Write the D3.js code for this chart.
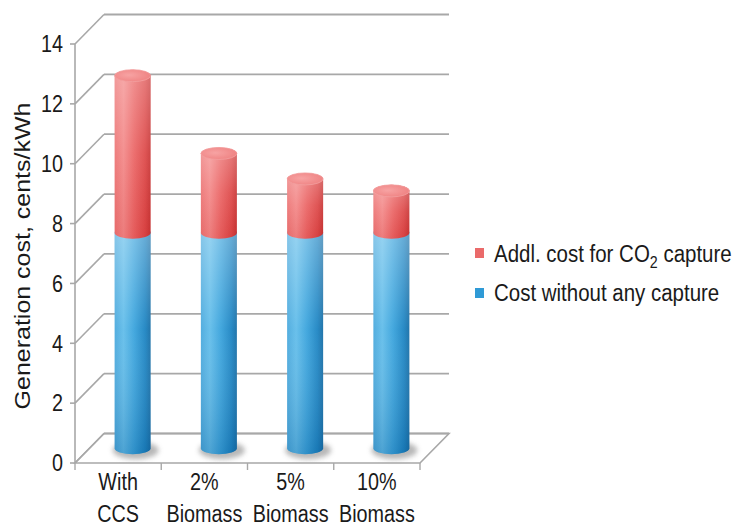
<!DOCTYPE html>
<html>
<head>
<meta charset="utf-8">
<script src="https://cdn.jsdelivr.net/npm/d3@7"></script>
<style>
  html, body { margin: 0; padding: 0; background: #ffffff; }
  svg { display: block; }
  text { font-family: "Liberation Sans", Arial, sans-serif; fill: #1a1a1a; }
</style>
</head>
<body>
<svg id="chart" width="734" height="526"></svg>
<script>
// ---- data ----
const categories = ["With CCS", "2% Biomass", "5% Biomass", "10% Biomass"];
const categoryLines = [["With", "CCS"], ["2%", "Biomass"], ["5%", "Biomass"], ["10%", "Biomass"]];
const baseCost = [7.2, 7.2, 7.2, 7.2];          // Cost without any capture
const captureCost = [5.25, 2.65, 1.8, 1.4];     // Addl. cost for CO2 capture
const yTicks = [0, 2, 4, 6, 8, 10, 12, 14];
const yTitle = "Generation cost, cents/kWh";
const legendBase = "Cost without any capture";

// ---- layout ----
const svg = d3.select("#chart");
const X0 = 75, X1 = 420, Y0 = 463, Y14 = 44;
const DX = 29, DY = -29.5;
const SX = 0.86;
const y = d3.scaleLinear().domain([0, 14]).range([Y0, Y14]);
const x = d3.scaleBand().domain(categories).range([X0, X1]).padding(0);
const gridColor = "#a8a8a8";

const defs = svg.append("defs");
function hGrad(id, stops) {
  const g = defs.append("linearGradient").attr("id", id).attr("x1", 0).attr("x2", 1).attr("y1", 0).attr("y2", 0);
  stops.forEach(s => g.append("stop").attr("offset", s[0]).attr("stop-color", s[1]).attr("stop-opacity", s[2] === undefined ? 1 : s[2]));
}
function vGrad(id, stops) {
  const g = defs.append("linearGradient").attr("id", id).attr("x1", 0).attr("x2", 0).attr("y1", 0).attr("y2", 1);
  stops.forEach(s => g.append("stop").attr("offset", s[0]).attr("stop-color", s[1]).attr("stop-opacity", s[2] === undefined ? 1 : s[2]));
}
hGrad("blueH", [[0, "#4aa9dd"], [0.25, "#62bdea"], [0.55, "#3aa3dc"], [0.85, "#1d84c2"], [1, "#176ea6"]]);
vGrad("blueV", [[0, "#ffffff", 0.35], [0.45, "#ffffff", 0.05], [1, "#00457f", 0.22]]);
hGrad("redH", [[0, "#ec7272"], [0.25, "#f38787"], [0.55, "#ea6262"], [0.85, "#dc4646"], [1, "#c83434"]]);
vGrad("redV", [[0, "#ffffff", 0.3], [0.5, "#ffffff", 0.08], [1, "#a00000", 0.08]]);
const rg = defs.append("radialGradient").attr("id", "capRed").attr("cx", 0.4).attr("cy", 0.45).attr("r", 0.7);
rg.append("stop").attr("offset", 0).attr("stop-color", "#f7a3a3");
rg.append("stop").attr("offset", 1).attr("stop-color", "#ee7f7f");
defs.append("filter").attr("id", "blur").attr("x", "-50%").attr("y", "-50%").attr("width", "200%").attr("height", "200%")
  .append("feGaussianBlur").attr("stdDeviation", 2.5);

// ---- walls / gridlines ----
const grid = svg.append("g");
// floor
grid.append("path")
  .attr("d", `M${X0},${y(0)} L${X1},${y(0)} L${X1 + DX},${y(0) + DY} L${X0 + DX},${y(0) + DY} Z`)
  .attr("fill", "#ffffff").attr("stroke", gridColor).attr("stroke-width", 1.6);
yTicks.forEach(t => {
  const yy = y(t);
  grid.append("line").attr("x1", X0).attr("y1", yy).attr("x2", X0 + DX).attr("y2", yy + DY)
    .attr("stroke", gridColor).attr("stroke-width", 1.6);
  grid.append("line").attr("x1", X0 + DX).attr("y1", yy + DY).attr("x2", X1 + DX).attr("y2", yy + DY)
    .attr("stroke", gridColor).attr("stroke-width", 1.8);
});
// front vertical axis
grid.append("line").attr("x1", X0).attr("y1", y(0)).attr("x2", X0).attr("y2", y(14))
  .attr("stroke", gridColor).attr("stroke-width", 1.6);
yTicks.forEach(t => {
  grid.append("line").attr("x1", X0 - 5).attr("y1", y(t)).attr("x2", X0).attr("y2", y(t))
    .attr("stroke", gridColor).attr("stroke-width", 1.6);
});
// x ticks
const bounds = categories.map(c => x(c)).concat([X1]);
bounds.forEach(b => {
  grid.append("line").attr("x1", b).attr("y1", y(0)).attr("x2", b).attr("y2", y(0) + 7)
    .attr("stroke", gridColor).attr("stroke-width", 1.4);
});

// ---- cylinders ----
const rx = 18, ry = 6;
const bars = svg.append("g");
function body(cx, yTop, yBot) {
  return `M${cx - rx},${yTop} L${cx - rx},${yBot} A${rx},${ry} 0 0 0 ${cx + rx},${yBot} L${cx + rx},${yTop} A${rx},${ry} 0 0 0 ${cx - rx},${yTop} Z`;
}
categories.forEach((c, i) => {
  const cx = x(c) + x.bandwidth() / 2 + DX / 2;
  const off = DY / 2;
  const yb0 = y(0) + off, yb1 = y(baseCost[i]) + off, yr1 = y(baseCost[i] + captureCost[i]) + off;
  // shadow
  bars.append("ellipse").attr("cx", cx + 3).attr("cy", yb0 + 2).attr("rx", rx + 5).attr("ry", ry + 3)
    .attr("fill", "#9a9a9a").attr("opacity", 0.7).attr("filter", "url(#blur)");
  // blue
  bars.append("path").attr("d", body(cx, yb1, yb0)).attr("fill", "url(#blueH)");
  bars.append("path").attr("d", body(cx, yb1, yb0)).attr("fill", "url(#blueV)");
  // red
  bars.append("path").attr("d", body(cx, yr1, yb1)).attr("fill", "url(#redH)");
  bars.append("path").attr("d", body(cx, yr1, yb1)).attr("fill", "url(#redV)");
  // top cap
  bars.append("ellipse").attr("cx", cx).attr("cy", yr1).attr("rx", rx).attr("ry", ry)
    .attr("fill", "url(#capRed)").attr("stroke", "#f2a0a0").attr("stroke-width", 0.8);
});

// ---- text ----
const txt = svg.append("g");
yTicks.forEach(t => {
  txt.append("text").attr("transform", `translate(${X0 - 12},${y(t)}) scale(${SX},1)`)
    .attr("text-anchor", "end").attr("dy", "0.36em").attr("font-size", 23).text(t);
});
categories.forEach((c, i) => {
  const cx = x(c) + x.bandwidth() / 2;
  categoryLines[i].forEach((line, j) => {
    txt.append("text").attr("transform", `translate(${cx},${490 + j * 32}) scale(${SX},1)`)
      .attr("text-anchor", "middle").attr("font-size", 23).text(line);
  });
});
txt.append("text").attr("transform", `translate(30,256) scale(${SX},1) rotate(-90)`)
  .attr("text-anchor", "middle").attr("font-size", 25).text(yTitle);

// legend
const LSX = 0.89;
const lg = svg.append("g");
lg.append("rect").attr("x", 475).attr("y", 248).attr("width", 9).attr("height", 10).attr("fill", "#ea6a6a");
lg.append("rect").attr("x", 475).attr("y", 288).attr("width", 9).attr("height", 10).attr("fill", "#2f9ad6");
const t1 = lg.append("text").attr("transform", `translate(494,262) scale(${LSX},1)`).attr("font-size", 23);
t1.append("tspan").text("Addl. cost for CO");
t1.append("tspan").attr("font-size", 16).attr("dy", 6).text("2");
t1.append("tspan").attr("dy", -6).text(" capture");
lg.append("text").attr("transform", `translate(494,301) scale(${LSX},1)`).attr("font-size", 23).text(legendBase);
</script>
</body>
</html>
